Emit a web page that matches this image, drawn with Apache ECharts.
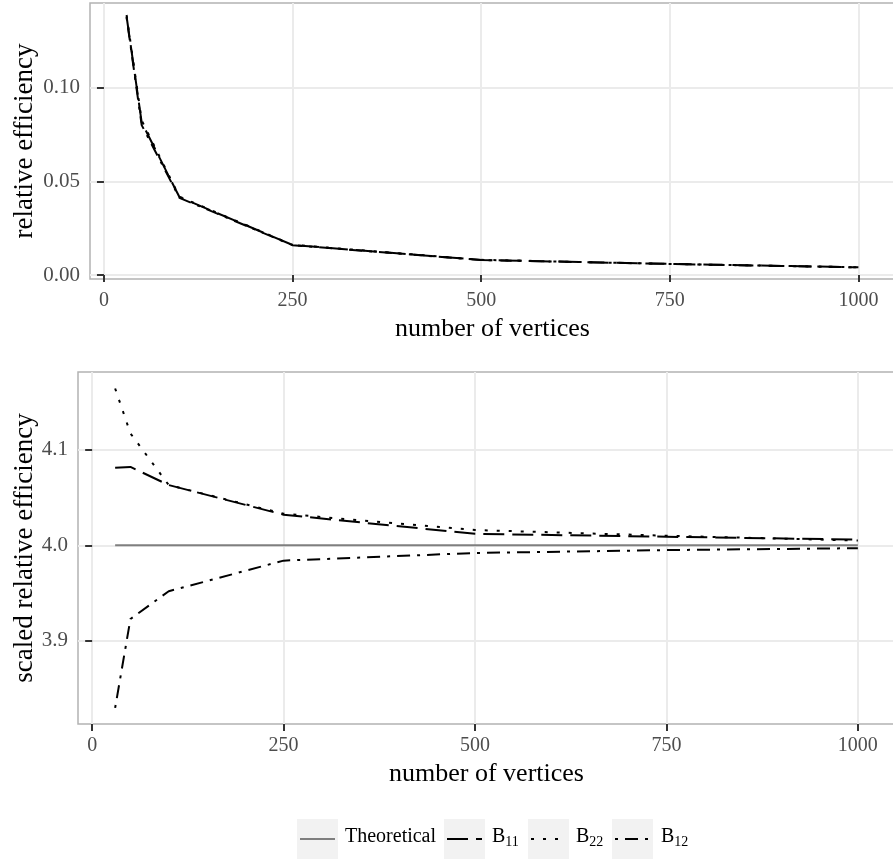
<!DOCTYPE html>
<html>
<head>
<meta charset="utf-8">
<script src="https://cdn.jsdelivr.net/npm/echarts@6/dist/echarts.min.js"></script>
<style>
html,body{margin:0;padding:0;background:#fff;}
#chart{width:893px;height:863px;}
</style>
</head>
<body>
<div id="chart"></div>
<script>
// ---- data ----
var vertices = [30, 50, 100, 250, 500, 750, 1000];
// top panel: relative efficiency
var reB11 = [0.1380, 0.0815, 0.0416, 0.0160, 0.0080, 0.0059, 0.0041];
var reB22 = [0.1388, 0.0825, 0.0418, 0.0161, 0.0081, 0.0059, 0.0041];
var reB12 = [0.1375, 0.0800, 0.0412, 0.0159, 0.0080, 0.0059, 0.0041];
// bottom panel: scaled relative efficiency
var srTheo = [4.0, 4.0, 4.0, 4.0, 4.0, 4.0, 4.0];
var srB11 = [4.081, 4.082, 4.063, 4.032, 4.012, 4.009, 4.006];
var srB22 = [4.164, 4.117, 4.063, 4.033, 4.016, 4.010, 4.005];
var srB12 = [3.830, 3.923, 3.952, 3.984, 3.992, 3.995, 3.997];
// ticks
var xTicks = [0, 250, 500, 750, 1000];
var yTicksTop = [0, 0.05, 0.10];
var yTicksBottom = [3.9, 4.0, 4.1];

var FONT = 'Liberation Serif';
var DASH_LONG = [21, 8];
var DASH_DOT = [3, 9];
var DASH_DOTDASH = [3, 7, 13, 7];

function pairs(xs, ys) { return xs.map(function (x, i) { return [x, ys[i]]; }); }

function xAxisCfg(gridIndex) {
  return {
    type: 'value', gridIndex: gridIndex, min: -18.5, max: 1048.5,
    name: 'number of vertices', nameLocation: 'middle', nameGap: 37, nameMoveOverlap: false,
    nameTextStyle: { fontFamily: FONT, fontSize: 26, color: '#000' },
    axisLine: { show: false },
    axisTick: { show: true, length: 7, customValues: xTicks, lineStyle: { color: '#333', width: 2 } },
    axisLabel: { customValues: xTicks, margin: 12, fontFamily: FONT, fontSize: 20, color: '#4d4d4d',
      formatter: function (v) { return String(v); } },
    splitLine: { show: true, lineStyle: { color: '#ebebeb', width: 2 } }
  };
}
function yAxisCfg(gridIndex, min, max, ticks, name, gap, digits) {
  return {
    type: 'value', gridIndex: gridIndex, min: min, max: max,
    name: name, nameLocation: 'middle', nameGap: gap, nameRotate: 90, nameMoveOverlap: false,
    nameTextStyle: { fontFamily: FONT, fontSize: 27, color: '#000' },
    axisLine: { show: false },
    axisTick: { show: true, length: 7, customValues: ticks, lineStyle: { color: '#333', width: 2 } },
    axisLabel: { customValues: ticks, margin: 10, fontFamily: FONT, fontSize: 21, color: '#4d4d4d',
      formatter: function (v) { return v.toFixed(digits); } },
    splitLine: { show: true, lineStyle: { color: '#ebebeb', width: 2 } }
  };
}
function lineSeries(name, xi, yi, xs, ys, color, dash, z) {
  return {
    name: name, type: 'line', xAxisIndex: xi, yAxisIndex: yi,
    data: pairs(xs, ys), symbol: 'none', z: z, silent: true,
    lineStyle: { color: color, width: 2, type: dash, cap: 'butt', join: 'round' }
  };
}

// legend built as graphics
var legendItems = [
  { box: 297, w: 41, dash: 'solid', color: '#7f7f7f', label: '{t|Theoretical}', tx: 345 },
  { box: 444, w: 41, dash: DASH_LONG, color: '#000', label: '{t|B}{s|11}', tx: 492 },
  { box: 528, w: 41, dash: DASH_DOT, color: '#000', label: '{t|B}{s|22}', tx: 576 },
  { box: 612, w: 41, dash: DASH_DOTDASH, color: '#000', label: '{t|B}{s|12}', tx: 661 }
];
var graphics = [];
legendItems.forEach(function (it) {
  graphics.push({ type: 'rect', left: it.box, top: 819, shape: { width: it.w, height: 40 }, style: { fill: '#f2f2f2' }, silent: true });
  graphics.push({ type: 'line', shape: { x1: it.box + 3, y1: 839, x2: it.box + it.w - 3, y2: 839 },
    style: { stroke: it.color, lineWidth: 2, lineDash: it.dash === 'solid' ? null : it.dash, lineCap: 'butt' }, silent: true });
  graphics.push({ type: 'text', left: it.tx, top: 827, silent: true,
    style: { text: it.label, fill: '#000',
      rich: { t: { fontFamily: FONT, fontSize: 20, lineHeight: 24, verticalAlign: 'middle' },
              s: { fontFamily: FONT, fontSize: 14, lineHeight: 10, verticalAlign: 'bottom' } } } });
});

var chart = echarts.init(document.getElementById('chart'), null, { renderer: 'canvas' });
chart.setOption({
  animation: false,
  backgroundColor: '#fff',
  grid: [
    { left: 90, top: 3, width: 805, height: 276, show: true, borderColor: '#b3b3b3', borderWidth: 1.5, backgroundColor: '#fff', containLabel: false, outerBoundsMode: 'none' },
    { left: 78, top: 372, width: 817, height: 352, show: true, borderColor: '#b3b3b3', borderWidth: 1.5, backgroundColor: '#fff', containLabel: false, outerBoundsMode: 'none' }
  ],
  xAxis: [xAxisCfg(0), xAxisCfg(1)],
  yAxis: [
    yAxisCfg(0, -0.00214, 0.1452, yTicksTop, 'relative efficiency', 52, 2),
    yAxisCfg(1, 3.8132, 4.1812, yTicksBottom, 'scaled relative efficiency', 40, 1)
  ],
  series: [
    lineSeries('B11 top', 0, 0, vertices, reB11, '#000', DASH_LONG, 3),
    lineSeries('B22 top', 0, 0, vertices, reB22, '#000', DASH_DOT, 4),
    lineSeries('B12 top', 0, 0, vertices, reB12, '#000', DASH_DOTDASH, 5),
    lineSeries('Theoretical', 1, 1, vertices, srTheo, '#7f7f7f', 'solid', 2),
    lineSeries('B11', 1, 1, vertices, srB11, '#000', DASH_LONG, 3),
    lineSeries('B22', 1, 1, vertices, srB22, '#000', DASH_DOT, 4),
    lineSeries('B12', 1, 1, vertices, srB12, '#000', DASH_DOTDASH, 5)
  ],
  graphic: graphics
});
</script>
</body>
</html>
